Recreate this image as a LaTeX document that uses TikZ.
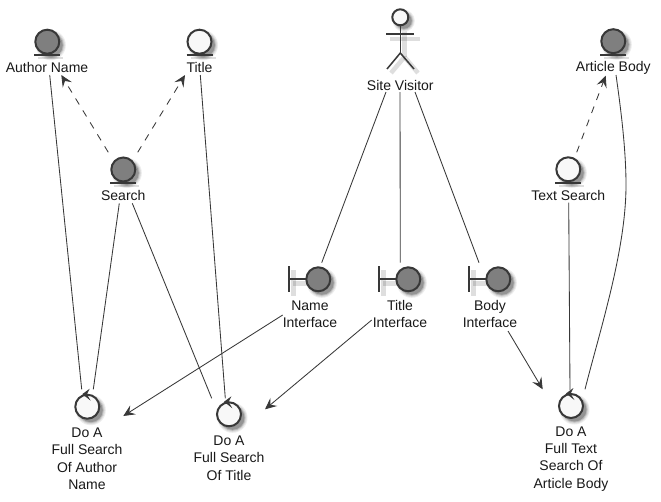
\documentclass[tikz,border=0pt]{standalone}
\usepackage{fontspec}
\setmainfont{Liberation Sans}
\usetikzlibrary{arrows.meta,calc}
\definecolor{ink}{HTML}{383838}
\definecolor{darkfill}{HTML}{7F7F7F}
\definecolor{lightfill}{HTML}{F8F8F8}
\tikzset{
  icon/.style={circle,draw=ink,line width=2pt,minimum size=24pt,inner sep=0pt,outer sep=0pt},
  darkicon/.style={icon,fill=darkfill},
  lighticon/.style={icon,fill=lightfill},
  iconline/.style={draw=ink,line width=1.8pt},
  shadowline/.style={draw=black,opacity=.13,line width=4.5pt},
  lbl/.style={font=\fontsize{14pt}{17.3pt}\selectfont,align=center,inner sep=0pt,outer sep=0pt,text=black!90},
  conn/.style={draw=ink,line width=.85pt},
  dep/.style={conn,dash pattern=on 7pt off 7pt},
  head/.style={-{Stealth[length=11.5pt,width=10.5pt,inset=4.5pt]}}
}
% blurred drop shadow below a round icon: centre x, centre y, radius
\newcommand{\RoundShadow}[3]{%
  \fill[black!7] ($(#1,#2)+(3.5,3.5)$) circle[radius=#3+3];
  \fill[black!15] ($(#1,#2)+(3.5,3.5)$) circle[radius=#3+2];
  \fill[black!27] ($(#1,#2)+(3.5,3.5)$) circle[radius=#3+1];
  \fill[black!42] ($(#1,#2)+(3.5,3.5)$) circle[radius=#3];}
\newcommand{\RoundIcon}[4]{%
  \RoundShadow{#3}{#4}{12}
  \node[#1] (#2) at (#3,#4) {};}
\newcommand{\EntityBar}[1]{%
  \draw[draw=black,opacity=.13,line width=2pt] ($(#1.center)+(-9,16.5)$) -- ($(#1.center)+(16,16.5)$);
  \draw[iconline] ($(#1.center)+(-13,13.6)$) -- ($(#1.center)+(13,13.6)$);}
\newcommand{\BoundaryIcon}[3]{%
  \draw[shadowline] ($(#2,#3)+(-25,-9)$) -- ($(#2,#3)+(-25,17)$);
  \draw[shadowline] ($(#2,#3)+(-25,4)$) -- ($(#2,#3)+(4,4)$);
  \RoundIcon{darkicon}{#1}{#2}{#3}
  \draw[iconline] ($(#2,#3)+(-29,-13)$) -- ($(#2,#3)+(-29,13)$);
  \draw[iconline] ($(#2,#3)+(-29,0)$) -- (#1.west);}
\newcommand{\ControlIcon}[3]{%
  \RoundIcon{lighticon}{#1}{#2}{#3}
  \fill[ink] ($(#1.center)+(2.4,-18)$) -- ($(#1.center)+(-5,-12.6)$) -- ($(#1.center)+(3.4,-6)$)
    -- ($(#1.center)+(-.4,-12.4)$) -- cycle;}
\begin{document}
\begin{tikzpicture}[x=1pt,y=-1pt]
\useasboundingbox (0,0) rectangle (661,501);
\fill[white] (0,0) rectangle (661,501);

% entities
\RoundIcon{darkicon}{author}{47.3}{41.7}
\EntityBar{author}
\node[lbl] (lauthor) at (47,67.7) {Author Name};
\RoundIcon{lighticon}{title}{199.5}{41.7}
\EntityBar{title}
\node[lbl] (ltitle) at (199.5,67.7) {Title};
\RoundIcon{darkicon}{search}{123.3}{169.5}
\EntityBar{search}
\node[lbl] (lsearch) at (123.3,195.7) {Search};
\RoundIcon{lighticon}{textsearch}{568.3}{169.3}
\EntityBar{textsearch}
\node[lbl] (ltextsearch) at (568.3,195.7) {Text Search};
\RoundIcon{darkicon}{article}{613.3}{41.2}
\EntityBar{article}
\node[lbl] (larticle) at (613.3,67.7) {Article Body};

% actor
\draw[shadowline] (390,39) -- (420,39);
\draw[shadowline] (404.5,30) -- (404.5,57);
\draw[shadowline] (404.5,57) -- (391,73);
\draw[shadowline] (404.5,57) -- (418,73);
\RoundShadow{400.3}{17.3}{8}
\node[lighticon,minimum size=16pt] (visitor) at (400.3,17.3) {};
\draw[iconline,line width=1.5pt] (386.3,34) -- (414.3,34);
\draw[iconline,line width=1.5pt] (visitor.south) -- (400.3,53);
\draw[iconline,line width=1.5pt] (387,69) -- (400.3,53) -- (414,69);
\node[lbl] (lvisitor) at (400.3,85.7) {Site Visitor};

% boundaries
\BoundaryIcon{bname}{318.3}{279.3}
\BoundaryIcon{btitle}{408.3}{279.3}
\BoundaryIcon{bbody}{498.3}{279.3}
\node[lbl] (lbname) at (310,314) {Name\\Interface};
\node[lbl] (lbtitle) at (400,314) {Title\\Interface};
\node[lbl] (lbbody) at (490,314) {Body\\Interface};

% controls
\ControlIcon{doauthor}{87.3}{406.7}
\ControlIcon{dotitle}{229}{414.3}
\ControlIcon{dotext}{571}{406}
\node[lbl] (ldoauthor) at (87,458.7) {Do A\\Full Search\\Of Author\\Name};
\node[lbl] (ldotitle) at (229,458.2) {Do A\\Full Search\\Of Title};
\node[lbl] (ldotext) at (571,458.7) {Do A\\Full Text\\Search Of\\Article Body};

% solid connectors
\draw[conn] ($(lauthor.center)+(2.7,7.3)$) -- ($(doauthor.center)+(-5.6,-17.4)$);
\draw[conn] ($(lsearch.center)+(-4,7.6)$) -- ($(doauthor.center)+(6,-17.4)$);
\draw[conn] ($(lsearch.center)+(9,7.6)$) -- ($(dotitle.center)+(-17.3,-16)$);
\draw[conn] ($(ltitle.center)+(.8,7.3)$) -- ($(dotitle.center)+(-3.7,-16)$);
\draw[conn] ($(ltextsearch.center)+(.4,7)$) -- ($(dotext.center)+(-1,-16)$);
\draw[conn] ($(larticle.center)+(2.7,7.3)$) .. controls (621,110) and (626,150) .. (626,185)
  .. controls (626,250) and (600,330) .. ($(dotext.center)+(14,-16.7)$);
\draw[conn] ($(lvisitor.center)+(-14.3,6.3)$) -- ($(bname.center)+(3.4,-16.6)$);
\draw[conn] ($(lvisitor.center)+(-.3,6.3)$) -- ($(btitle.center)+(-8,-16.6)$);
\draw[conn] ($(lvisitor.center)+(14.7,6.3)$) -- ($(bbody.center)+(-19.3,-16.6)$);

% dashed dependencies
\draw[dep,head] ($(search.center)+(-15,-17.2)$) -- ($(lauthor.center)+(14.3,7.3)$);
\draw[dep,head] ($(search.center)+(14.4,-17.2)$) -- ($(ltitle.center)+(-14.5,7.3)$);
\draw[dep,head] ($(textsearch.center)+(8.4,-17)$) -- ($(larticle.center)+(-7.6,8)$);

% arrows
\draw[conn,head] ($(lbname.center)+(-27.3,1)$) -- ($(doauthor.center)+(36,9.3)$);
\draw[conn,head] ($(lbtitle.center)+(-28.3,6)$) -- ($(dotitle.center)+(36,-5)$);
\draw[conn,head] ($(lbbody.center)+(18,17)$) -- ($(dotext.center)+(-28.3,-16.7)$);
\end{tikzpicture}
\end{document}
